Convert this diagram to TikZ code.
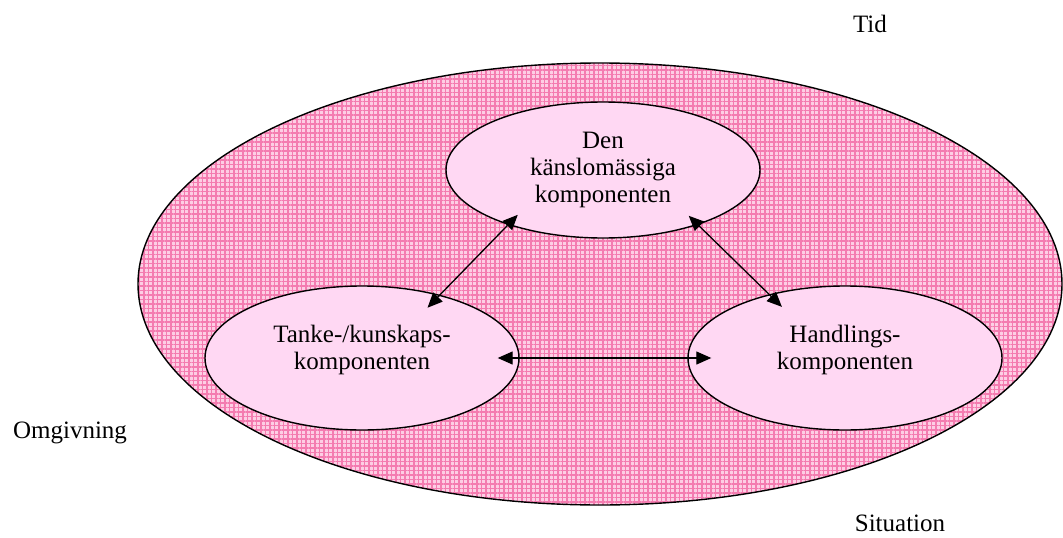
\documentclass[tikz,border=0pt]{standalone}
\usepackage{fontspec}
\setmainfont{Liberation Serif}
\usetikzlibrary{arrows.meta,shapes.geometric,patterns.meta,positioning}

\definecolor{plaidbase}{RGB}{253,206,228}
\definecolor{plaidline}{RGB}{244,124,176}
\definecolor{compfill}{RGB}{255,216,243}

\begin{document}
\begin{tikzpicture}
  [x=1pt,y=-1pt,font=\fontsize{25pt}{27pt}\selectfont,
   comp/.style={ellipse,draw=black,fill=compfill,line width=1.4pt,
                inner sep=0pt,minimum width=314pt,minimum height=144pt},
   compText/.style={align=center,inner sep=0pt},
   link/.style={{Triangle[length=15pt,width=13pt]}-{Triangle[length=15pt,width=13pt]},
                line width=1.3pt},
   word/.style={anchor=base}]
  \useasboundingbox (0,0) rectangle (1063,538);

  % the surrounding field, pink plaid
  \fill[plaidbase] (600,284) ellipse [x radius=462pt,y radius=221pt];
  \fill[pattern={Lines[distance=4.5pt,angle=0,line width=1.1pt]},pattern color=plaidline]
    (600,284) ellipse [x radius=462pt,y radius=221pt];
  \fill[pattern={Lines[distance=4.5pt,angle=90,line width=1.1pt]},pattern color=plaidline]
    (600,284) ellipse [x radius=462pt,y radius=221pt];
  \draw[line width=1.4pt] (600,284) ellipse [x radius=462pt,y radius=221pt];

  % the three components
  \node (dk) at (603,170) [comp,minimum height=136pt] {};
  \node (tk) at (362,358) [comp] {};
  \node (hk) at (845,358) [comp] {};
  \node (dkText) at (dk) [compText] {Den\\känslomässiga\\komponenten};
  \node (tkText) at ([yshift=8pt]tk.center) [compText] {Tanke-/kunskaps-\\komponenten};
  \node (hkText) at ([yshift=8pt]hk.center) [compText] {Handlings-\\komponenten};

  \draw[link,shorten <=-18pt,shorten >=-14pt] (tk.39) -- (dk.210);
  \draw[link,shorten <=-13pt,shorten >=-18pt] (dk.330) -- (hk.140);
  \draw[link,shorten <=-22pt,shorten >=-24pt] (tk.east) -- (hk.west);

  \node (tid) at (870,32) [word] {Tid};
  \node (omg) at (70,438) [word] {Omgivning};
  \node (sit) at (900,531) [word] {Situation};
\end{tikzpicture}
\end{document}
